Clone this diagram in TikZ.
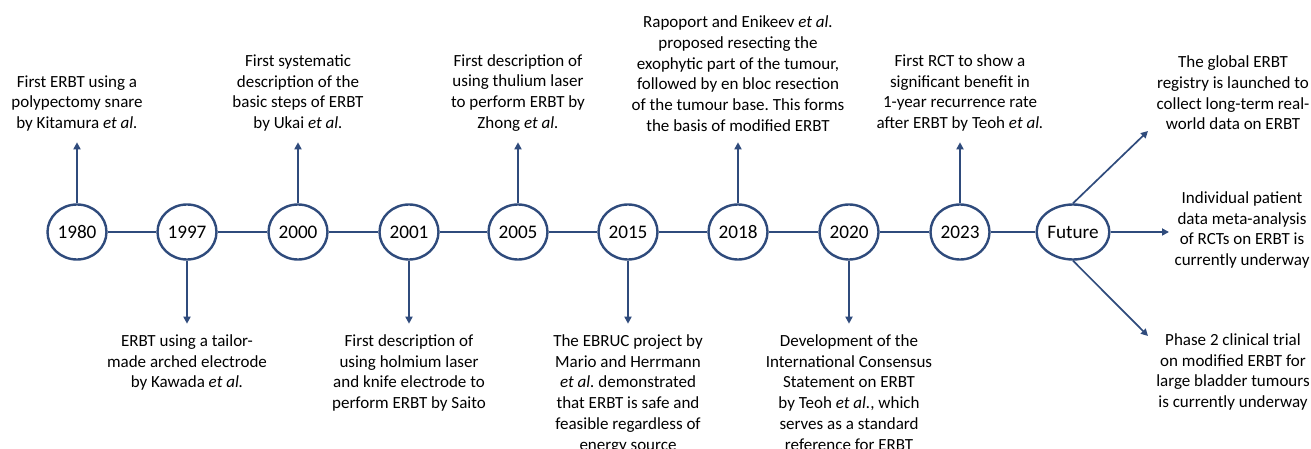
\documentclass[tikz,border=0pt]{standalone}
\usepackage{fontspec}
\setmainfont{Carlito}
\usetikzlibrary{positioning,shapes.geometric,arrows.meta}
\definecolor{navy}{RGB}{47,75,124}
\tikzset{
  yearnode/.style={ellipse,draw=navy,line width=1.2pt,minimum width=29.5pt,minimum height=27.5pt,inner sep=0pt,font=\fontsize{9.6}{11}\selectfont},
  desc/.style={align=center,inner sep=0pt,outer sep=5.5pt,font=\fontsize{8.5}{10.35}\selectfont\frenchspacing},
  tline/.style={navy,line width=1pt},
  arr/.style={navy,line width=0.85pt,-{Triangle[length=3.5pt,width=3.5pt]}},
}
\begin{document}
\begin{tikzpicture}[x=0.5pt,y=0.5pt]
		\useasboundingbox (0,-217) rectangle (1311,232);
		\foreach \yr/\xx in {1980/77,1997/187,2000/298,2001/409,2005/518,2015/628,2018/738,2020/849,2023/960,Future/1073}
			\node[yearnode] (y\yr) at (\xx,0) {\yr};
		\foreach \a/\b in {1980/1997,1997/2000,2000/2001,2001/2005,2005/2015,2015/2018,2018/2020,2020/2023,2023/Future}
			\draw[tline] (y\a) -- (y\b);
		\node[desc,above=30.5pt of y1980] (t1980) {First ERBT using a\\polypectomy snare\\by Kitamura \textit{et al.}};
		\node[desc,below=31.5pt of y1997] (t1997) {ERBT using a tailor-\\made arched electrode\\by Kawada \textit{et al.}};
		\node[desc,above=30.5pt of y2000] (t2000) {First systematic\\description of the\\basic steps of ERBT\\by Ukai \textit{et al.}};
		\node[desc,below=31.5pt of y2001] (t2001) {First description of\\using holmium laser\\and knife electrode to\\perform ERBT by Saito};
		\node[desc,above=30.5pt of y2005] (t2005) {First description of\\using thulium laser\\to perform ERBT by\\Zhong \textit{et al.}};
		\node[desc,below=31.5pt of y2015] (t2015) {The EBRUC project by\\Mario and Herrmann\\\textit{et al.} demonstrated\\that ERBT is safe and\\feasible regardless of\\energy source};
		\node[desc,above=30.5pt of y2018] (t2018) {Rapoport and Enikeev \textit{et al.}\\proposed resecting the\\exophytic part of the tumour,\\followed by en bloc resection\\of the tumour base. This forms\\the basis of modified ERBT};
		\node[desc,below=31.5pt of y2020] (t2020) {Development of the\\International Consensus\\Statement on ERBT\\by Teoh \textit{et al.}, which\\serves as a standard\\reference for ERBT};
		\node[desc,above=30.5pt of y2023] (t2023) {First RCT to show a\\significant benefit in\\1-year recurrence rate\\after ERBT by Teoh \textit{et al.}};
		\foreach \yr in {1980,2000,2005,2018,2023,1997,2001,2015,2020}
			\draw[arr] (y\yr) -- (t\yr);
		\node[desc] (tf1) at (1233,139) {The global ERBT\\registry is launched to\\collect long-term real-\\world data on ERBT};
		\node[desc] (tf2) at (1242,2) {Individual patient\\data meta-analysis\\of RCTs on ERBT is\\currently underway};
		\node[desc] (tf3) at (1233,-140) {Phase 2 clinical trial\\on modified ERBT for\\large bladder tumours\\is currently underway};
		\coordinate (f1) at (1148,101);
		\coordinate (f2) at (1169,0);
		\coordinate (f3) at (1148,-104);
		\draw[arr] (yFuture.north) -- (f1);
		\draw[arr] (yFuture.east) -- (f2);
		\draw[arr] (yFuture.south) -- (f3);
\end{tikzpicture}
\end{document}
